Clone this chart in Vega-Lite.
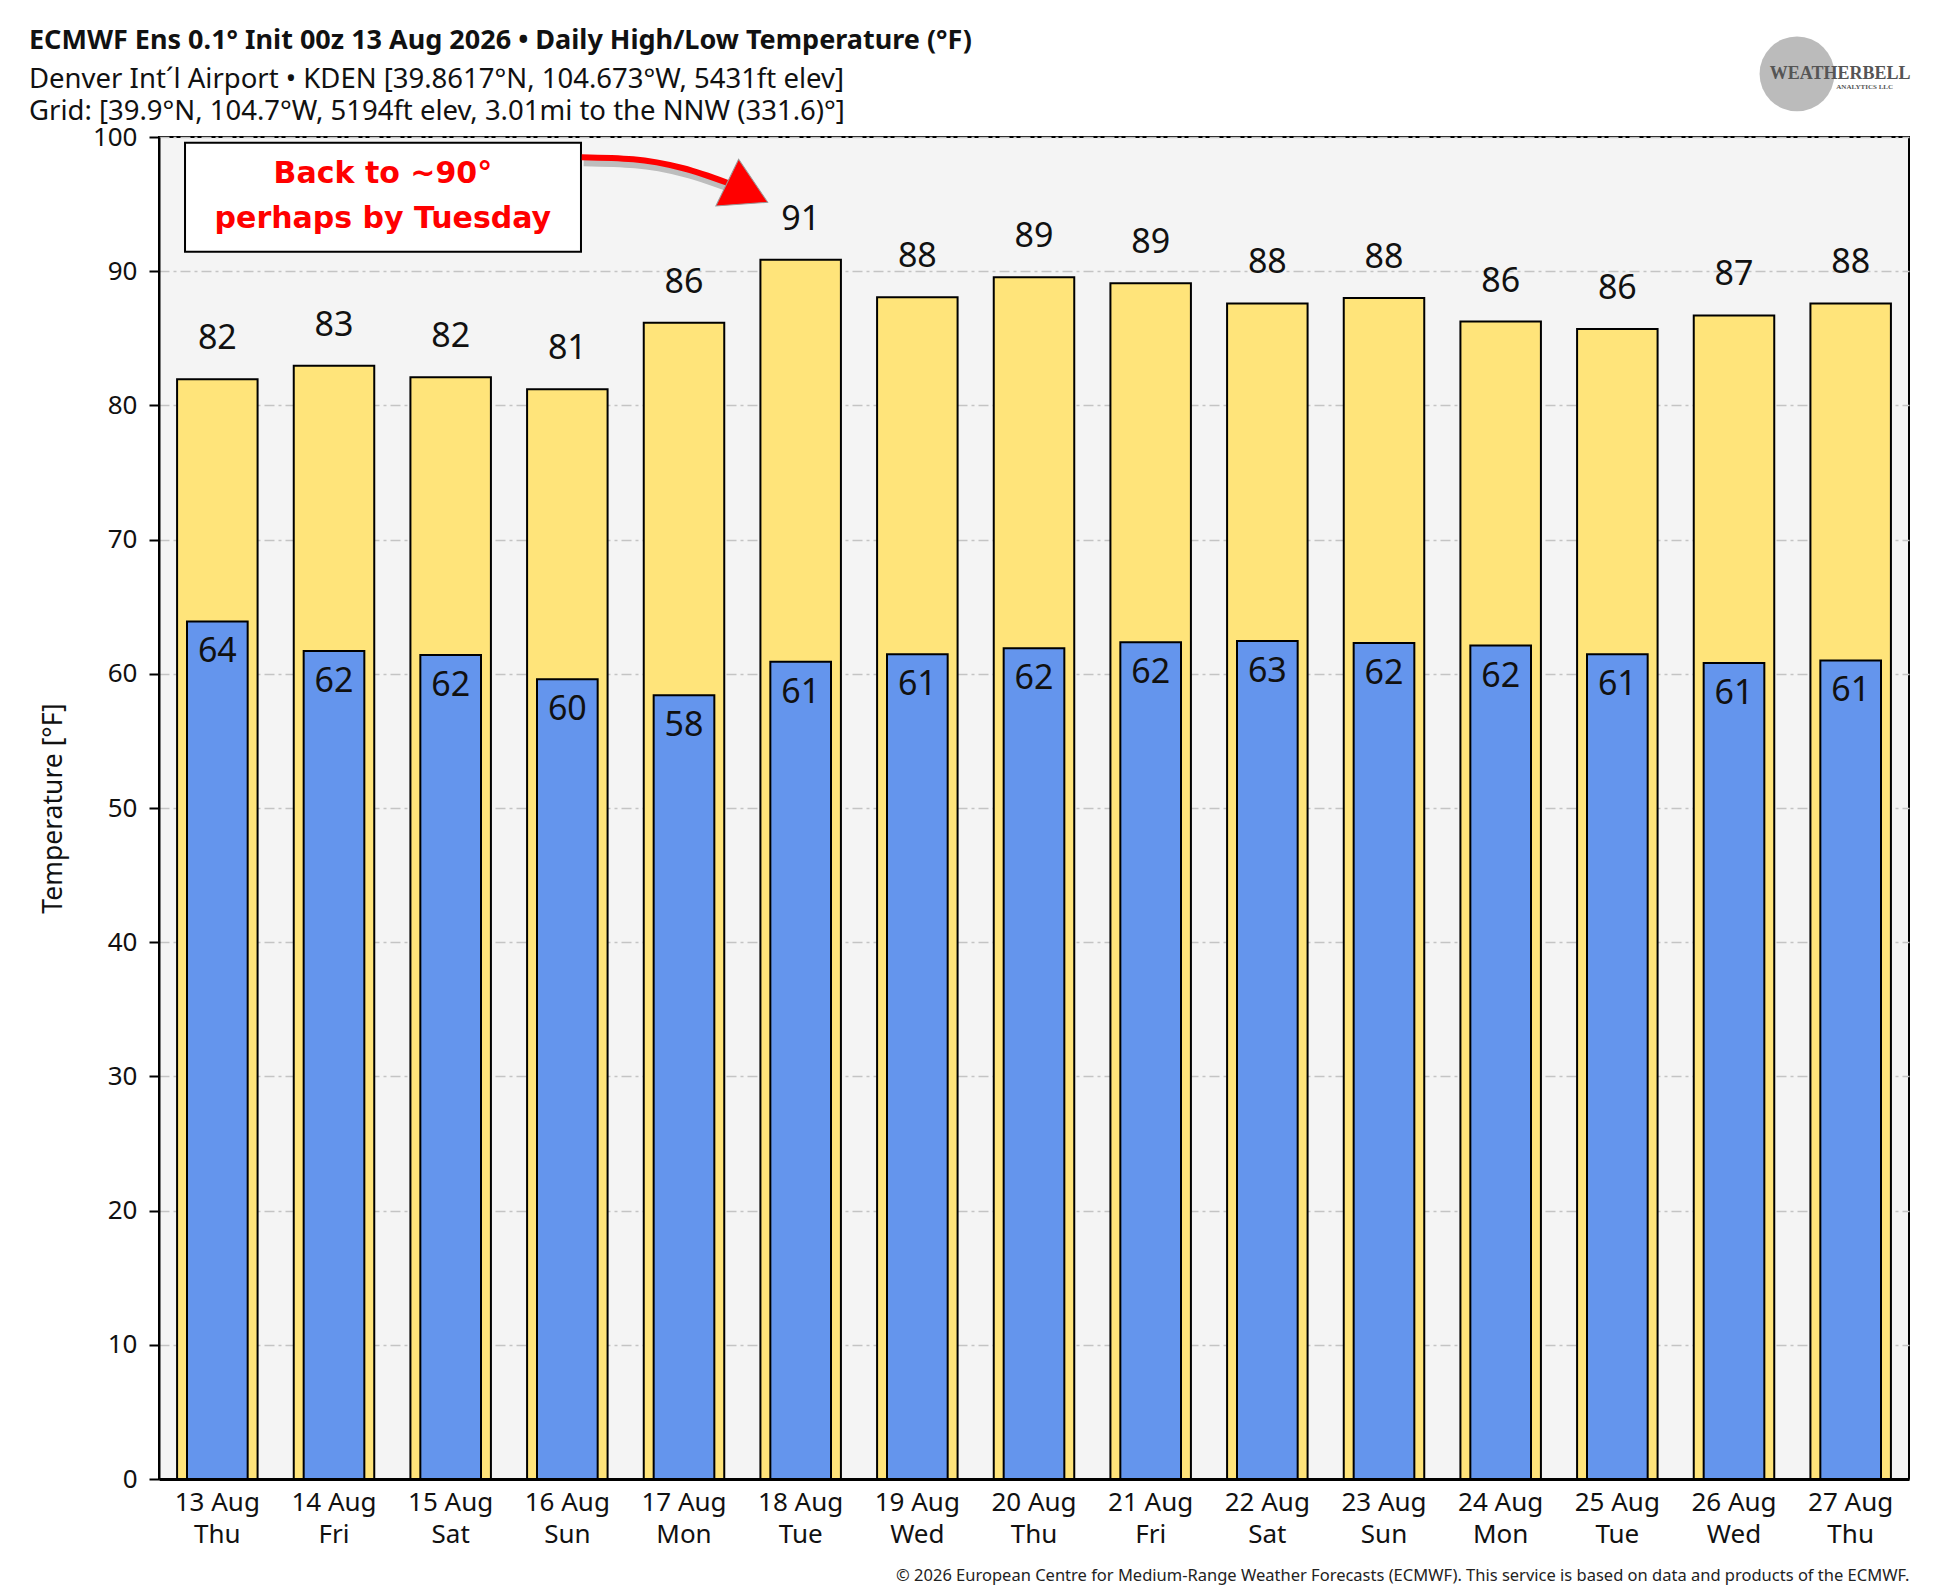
{
  "$schema": "https://vega.github.io/schema/vega-lite/v6.json",
  "autosize": {"type": "none"},
  "padding": {"left": 159, "top": 137, "right": 28, "bottom": 116},
  "width": 1750,
  "height": 1342,
  "background": "white",
  "config": {
    "view": {"fill": "#F4F4F4", "stroke": "black", "strokeWidth": 2},
    "font": "Noto Sans"
  },
  "title": {
    "text": "ECMWF Ens 0.1° Init 00z 13 Aug 2026 • Daily High/Low Temperature (°F)",
    "subtitle": [
      "Denver Int´l Airport • KDEN [39.8617°N, 104.673°W, 5431ft elev]",
      "Grid: [39.9°N, 104.7°W, 5194ft elev, 3.01mi to the NNW (331.6)°]"
    ],
    "anchor": "start",
    "frame": "group",
    "dx": -130,
    "dy": 104,
    "offset": 14,
    "font": "Noto Sans",
    "fontSize": 27,
    "fontWeight": "bold",
    "color": "#111",
    "subtitleFont": "Noto Sans",
    "subtitleFontSize": 27.5,
    "subtitleColor": "#111",
    "subtitleLineHeight": 32,
    "subtitlePadding": 11
  },
  "data": {
    "values": [
      {"day": "13 Aug|Thu", "high": 81.95, "low": 63.9, "hi_lbl": "82", "lo_lbl": "64"},
      {"day": "14 Aug|Fri", "high": 82.95, "low": 61.7, "hi_lbl": "83", "lo_lbl": "62"},
      {"day": "15 Aug|Sat", "high": 82.1, "low": 61.4, "hi_lbl": "82", "lo_lbl": "62"},
      {"day": "16 Aug|Sun", "high": 81.2, "low": 59.6, "hi_lbl": "81", "lo_lbl": "60"},
      {"day": "17 Aug|Mon", "high": 86.15, "low": 58.4, "hi_lbl": "86", "lo_lbl": "58"},
      {"day": "18 Aug|Tue", "high": 90.85, "low": 60.9, "hi_lbl": "91", "lo_lbl": "61"},
      {"day": "19 Aug|Wed", "high": 88.05, "low": 61.45, "hi_lbl": "88", "lo_lbl": "61"},
      {"day": "20 Aug|Thu", "high": 89.55, "low": 61.9, "hi_lbl": "89", "lo_lbl": "62"},
      {"day": "21 Aug|Fri", "high": 89.1, "low": 62.35, "hi_lbl": "89", "lo_lbl": "62"},
      {"day": "22 Aug|Sat", "high": 87.6, "low": 62.45, "hi_lbl": "88", "lo_lbl": "63"},
      {"day": "23 Aug|Sun", "high": 88.0, "low": 62.3, "hi_lbl": "88", "lo_lbl": "62"},
      {"day": "24 Aug|Mon", "high": 86.25, "low": 62.1, "hi_lbl": "86", "lo_lbl": "62"},
      {"day": "25 Aug|Tue", "high": 85.7, "low": 61.45, "hi_lbl": "86", "lo_lbl": "61"},
      {"day": "26 Aug|Wed", "high": 86.7, "low": 60.8, "hi_lbl": "87", "lo_lbl": "61"},
      {"day": "27 Aug|Thu", "high": 87.6, "low": 61.0, "hi_lbl": "88", "lo_lbl": "61"}
    ]
  },
  "layer": [
    {
      "layer": [
        {
          "mark": {"type": "bar", "width": {"band": 0.69}, "fill": "#FFE47A", "stroke": "black", "strokeWidth": 2},
          "encoding": {
            "x": {
              "field": "day", "type": "nominal", "sort": null,
              "scale": {"paddingInner": 0, "paddingOuter": 0},
              "axis": {
                "labelExpr": "split(datum.value, '|')",
                "labelAngle": 0,
                "labelFont": "Noto Sans",
                "labelFontSize": 26,
                "labelLineHeight": 32,
                "labelPadding": 10,
                "labelColor": "#111",
                "ticks": false,
                "domainColor": "black",
                "domainWidth": 3,
                "title": "© 2026 European Centre for Medium-Range Weather Forecasts (ECMWF). This service is based on data and products of the ECMWF.",
                "titleFont": "Noto Sans",
                "titleFontSize": 16.5,
                "titleFontWeight": "normal",
                "titleColor": "#222",
                "titleX": 1750,
                "titleY": 101,
                "titleAlign": "right",
                "titleBaseline": "alphabetic"
              }
            },
            "y": {
              "field": "high", "type": "quantitative",
              "scale": {"domain": [0, 100], "nice": false, "zero": true},
              "axis": {
                "title": "Temperature [°F]",
                "values": [0, 10, 20, 30, 40, 50, 60, 70, 80, 90, 100],
                "grid": true,
                "gridColor": "#c4c4c4",
                "gridDash": [10, 4, 3, 4],
                "gridWidth": 1.5,
                "labelFont": "Noto Sans",
                "labelFontSize": 26,
                "labelColor": "#111",
                "labelPadding": 12,
                "tickSize": 10,
                "tickColor": "black",
                "tickWidth": 2,
                "domainColor": "black",
                "domainWidth": 2,
                "titleFont": "Noto Sans",
                "titleFontSize": 26.5,
                "titleFontWeight": "normal",
                "titleColor": "#111",
                "titleX": -106,
                "titleY": 671,
                "titleAngle": -90,
                "titleAlign": "center",
                "titleBaseline": "middle"
              }
            }
          }
        },
        {
          "mark": {"type": "bar", "width": {"band": 0.52}, "fill": "#6495ED", "stroke": "black", "strokeWidth": 2},
          "encoding": {
            "x": {"field": "day", "type": "nominal", "sort": null},
            "y": {"field": "low", "type": "quantitative"}
          }
        },
        {
          "mark": {"type": "text", "font": "Noto Sans", "fontSize": 34, "color": "#111", "baseline": "alphabetic", "align": "center", "dy": -30},
          "encoding": {
            "x": {"field": "day", "type": "nominal", "sort": null},
            "y": {"field": "high", "type": "quantitative"},
            "text": {"field": "hi_lbl"}
          }
        },
        {
          "mark": {"type": "text", "font": "Noto Sans", "fontSize": 34, "color": "#111", "baseline": "alphabetic", "align": "center", "dy": 41},
          "encoding": {
            "x": {"field": "day", "type": "nominal", "sort": null},
            "y": {"field": "low", "type": "quantitative"},
            "text": {"field": "lo_lbl"}
          }
        }
      ]
    },
    {
      "layer": [
        {
          "data": {"values": [{"ax": 0.223, "ax2": 3.617, "ay": 99.57, "ay2": 91.45}]},
          "mark": {"type": "rect", "fill": "white", "stroke": "black", "strokeWidth": 2},
          "encoding": {
            "x": {"field": "ax", "type": "quantitative", "scale": {"domain": [0, 15], "nice": false, "zero": false},
                  "axis": {"labels": false, "ticks": false, "domain": false, "grid": false, "title": null}},
            "x2": {"field": "ax2"},
            "y": {"field": "ay", "type": "quantitative"},
            "y2": {"field": "ay2"}
          }
        },
        {
          "data": {"values": [
            {"ax": 1.919, "ay": 97.24, "txt": "Back to ~90°"},
            {"ax": 1.919, "ay": 93.89, "txt": "perhaps by Tuesday"}
          ]},
          "mark": {"type": "text", "font": "DejaVu Sans", "fontWeight": "bold", "fontSize": 30, "color": "#FF0000", "baseline": "middle", "align": "center"},
          "encoding": {
            "x": {"field": "ax", "type": "quantitative"},
            "y": {"field": "ay", "type": "quantitative"},
            "text": {"field": "txt"}
          }
        },
        {
          "data": {"values": [
            {"ax": 3.623, "ay": 98.49, "o": 1},
            {"ax": 4.065, "ay": 98.34, "o": 2},
            {"ax": 4.494, "ay": 97.67, "o": 3},
            {"ax": 4.877, "ay": 96.57, "o": 4}
          ]},
          "mark": {"type": "line", "interpolate": "monotone", "stroke": "#555555", "strokeWidth": 8, "opacity": 0.35, "xOffset": 2, "yOffset": 5},
          "encoding": {
            "x": {"field": "ax", "type": "quantitative"},
            "y": {"field": "ay", "type": "quantitative"},
            "order": {"field": "o"}
          }
        },
        {
          "data": {"values": [
            {"ax": 3.623, "ay": 98.49, "o": 1},
            {"ax": 4.065, "ay": 98.34, "o": 2},
            {"ax": 4.494, "ay": 97.67, "o": 3},
            {"ax": 4.877, "ay": 96.57, "o": 4}
          ]},
          "mark": {"type": "line", "interpolate": "monotone", "stroke": "#FF0000", "strokeWidth": 6},
          "encoding": {
            "x": {"field": "ax", "type": "quantitative"},
            "y": {"field": "ay", "type": "quantitative"},
            "order": {"field": "o"}
          }
        },
        {
          "data": {"values": [{"ax": 5.044, "ay": 95.87}]},
          "mark": {"type": "point", "shape": "triangle-right", "angle": 26, "size": 2700, "filled": true, "fill": "#FF0000", "opacity": 1, "stroke": "#999999", "strokeWidth": 1},
          "encoding": {
            "x": {"field": "ax", "type": "quantitative"},
            "y": {"field": "ay", "type": "quantitative"}
          }
        },
        {
          "data": {"values": [{"ax": 14.04, "ay": 104.7}]},
          "mark": {"type": "point", "shape": "circle", "size": 5600, "filled": true, "fill": "#b4b4b4", "opacity": 0.9},
          "encoding": {
            "x": {"field": "ax", "type": "quantitative"},
            "y": {"field": "ay", "type": "quantitative"}
          }
        },
        {
          "data": {"values": [
            {"ax": 14.41, "ay": 104.7, "txt": "WEATHERBELL", "fs": 18},
            {"ax": 14.62, "ay": 103.75, "txt": "ANALYTICS LLC", "fs": 7}
          ]},
          "mark": {"type": "text", "font": "Liberation Serif", "fontWeight": "bold", "color": "#555555", "baseline": "middle", "align": "center"},
          "encoding": {
            "x": {"field": "ax", "type": "quantitative"},
            "y": {"field": "ay", "type": "quantitative"},
            "text": {"field": "txt"},
            "size": {"field": "fs", "type": "quantitative", "scale": null, "legend": null}
          }
        }
      ]
    }
  ],
  "resolve": {"scale": {"x": "independent"}}
}
